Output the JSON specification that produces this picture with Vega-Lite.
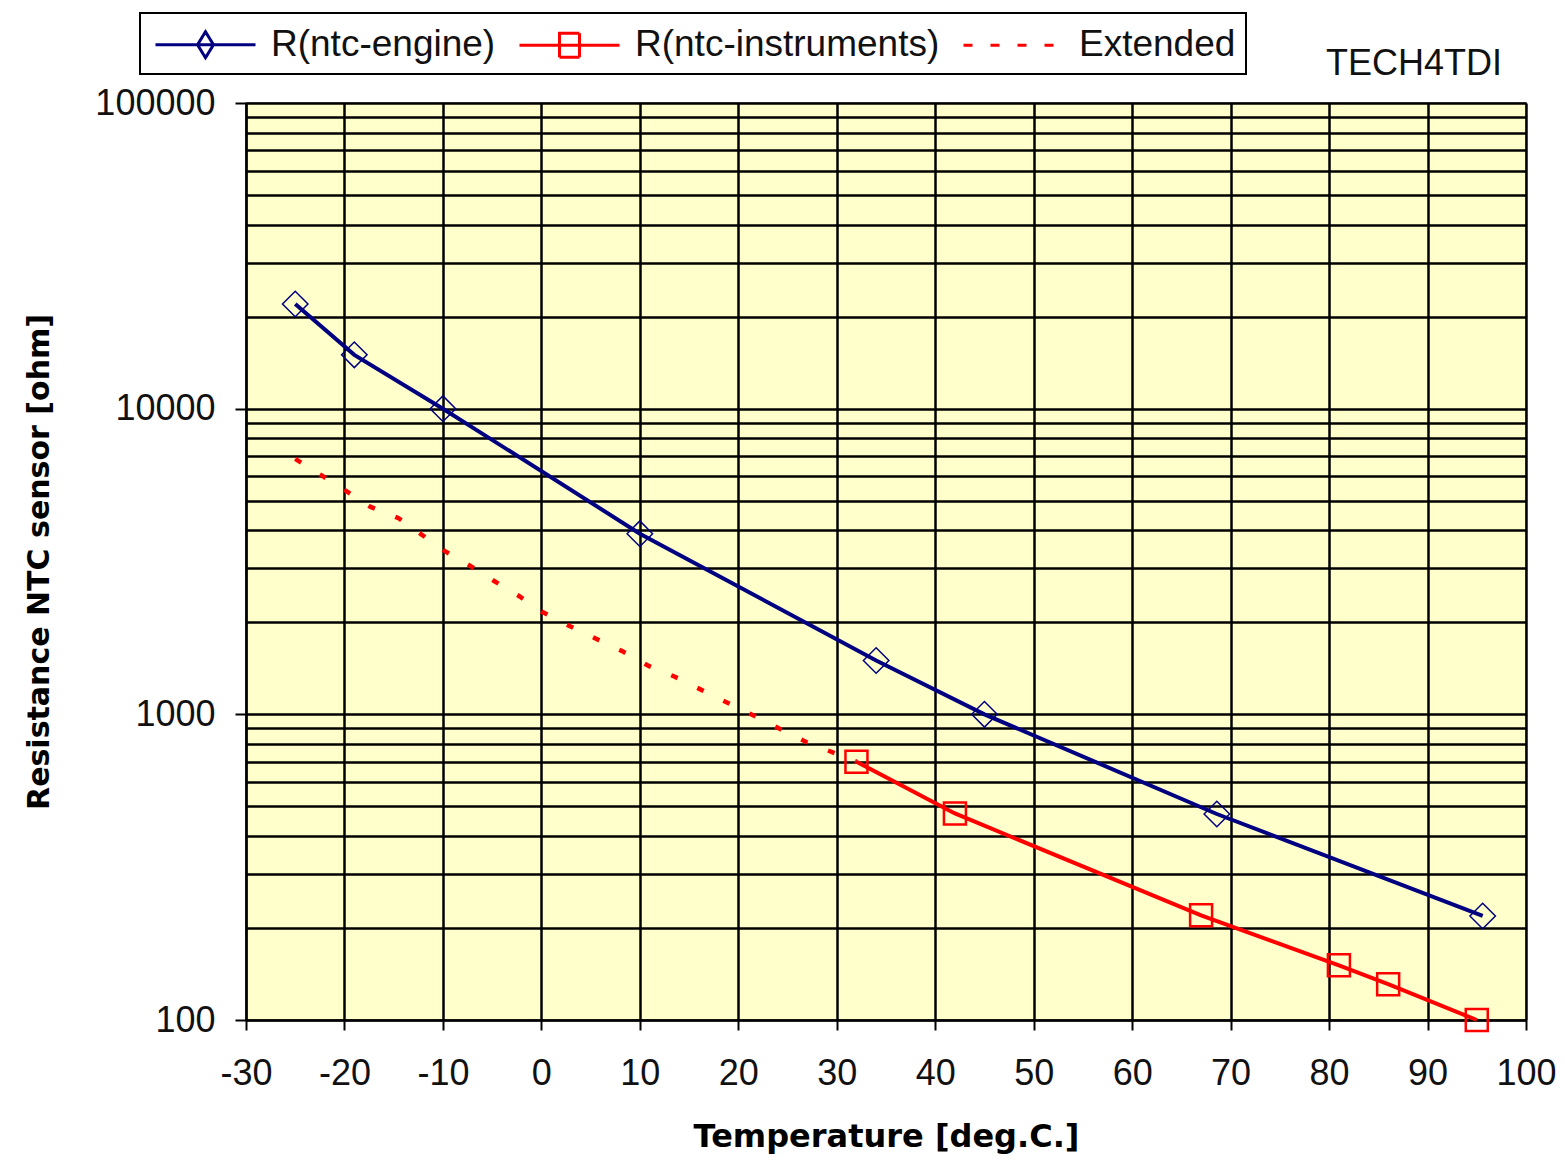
{
  "$schema": "https://vega.github.io/schema/vega-lite/v6.json",
  "width": 1280,
  "height": 917,
  "autosize": {"type": "none"},
  "padding": {"left": 246, "top": 103, "right": 39, "bottom": 141},
  "background": "white",
  "title": {"text": "TECH4TDI", "anchor": "end", "fontSize": 36, "font": "Liberation Sans", "fontWeight": "normal", "color": "#111111", "offset": -71, "dx": -54},
  "config": {
    "view": {"fill": "#FFFFCC", "stroke": "#999999", "strokeWidth": 2},
    "axis": {"labelFont": "Liberation Sans", "labelFontSize": 36, "labelColor": "#111111", "titleFont": "DejaVu Sans", "titleFontWeight": "bold", "titleColor": "#000000", "domainColor": "#000000", "domainWidth": 2, "tickColor": "#000000", "tickWidth": 2, "gridColor": "#000000", "gridWidth": 2.5, "gridOpacity": 1, "labelFlush": false, "labelOverlap": false}
  },
  "datasets": {
    "eng": [
      {"t": -25, "r": 22000, "series": "R(ntc-engine)"},
      {"t": -19, "r": 15000, "series": "R(ntc-engine)"},
      {"t": -10, "r": 10000, "series": "R(ntc-engine)"},
      {"t": 10, "r": 3900, "series": "R(ntc-engine)"},
      {"t": 34, "r": 1500, "series": "R(ntc-engine)"},
      {"t": 45, "r": 1000, "series": "R(ntc-engine)"},
      {"t": 68.6, "r": 472, "series": "R(ntc-engine)"},
      {"t": 95.6, "r": 219, "series": "R(ntc-engine)"}
    ],
    "ins": [
      {"t": 32, "r": 700, "series": "R(ntc-instruments)"},
      {"t": 42, "r": 474, "series": "R(ntc-instruments)"},
      {"t": 67, "r": 220, "series": "R(ntc-instruments)"},
      {"t": 81, "r": 151, "series": "R(ntc-instruments)"},
      {"t": 86, "r": 131, "series": "R(ntc-instruments)"},
      {"t": 95, "r": 100, "series": "R(ntc-instruments)"}
    ],
    "ext": [
      {"t": -25, "r": 6850, "series": "Extended"},
      {"t": -22.4, "r": 6070, "series": "Extended"},
      {"t": -20, "r": 5420, "series": "Extended"},
      {"t": -17.4, "r": 4780, "series": "Extended"},
      {"t": -14.5, "r": 4380, "series": "Extended"},
      {"t": -12.2, "r": 3880, "series": "Extended"},
      {"t": -9.8, "r": 3420, "series": "Extended"},
      {"t": -7.3, "r": 3070, "series": "Extended"},
      {"t": -4.8, "r": 2730, "series": "Extended"},
      {"t": -2.2, "r": 2430, "series": "Extended"},
      {"t": 0, "r": 2170, "series": "Extended"},
      {"t": 2.8, "r": 1950, "series": "Extended"},
      {"t": 5.5, "r": 1770, "series": "Extended"},
      {"t": 8.2, "r": 1610, "series": "Extended"},
      {"t": 10.9, "r": 1440, "series": "Extended"},
      {"t": 13.5, "r": 1330, "series": "Extended"},
      {"t": 16.3, "r": 1200, "series": "Extended"},
      {"t": 18.8, "r": 1095, "series": "Extended"},
      {"t": 21.5, "r": 993, "series": "Extended"},
      {"t": 24.2, "r": 897, "series": "Extended"},
      {"t": 26.9, "r": 812, "series": "Extended"},
      {"t": 32, "r": 700, "series": "Extended"}
    ]
  },
  "encoding": {
    "x": {"field": "t", "type": "quantitative", "scale": {"domain": [-30, 100], "nice": false, "zero": false},
      "axis": {"values": [-30, -20, -10, 0, 10, 20, 30, 40, 50, 60, 70, 80, 90, 100], "labelExpr": "'' + datum.value", "title": "Temperature [deg.C.]", "titleFontSize": 32, "titlePadding": 30, "tickSize": 10, "labelPadding": 26, "grid": true}},
    "y": {"field": "r", "type": "quantitative", "scale": {"type": "log", "domain": [100, 100000], "nice": false},
      "axis": {"values": [100, 200, 300, 400, 500, 600, 700, 800, 900, 1000, 2000, 3000, 4000, 5000, 6000, 7000, 8000, 9000, 10000, 20000, 30000, 40000, 50000, 60000, 70000, 80000, 90000, 100000],
        "labelExpr": "(datum.value == 100 || datum.value == 1000 || datum.value == 10000 || datum.value == 100000) ? '' + datum.value : ''",
        "tickOpacity": {"condition": {"test": "datum.value == 100 || datum.value == 1000 || datum.value == 10000 || datum.value == 100000", "value": 1}, "value": 0},
        "tickSize": 11, "labelPadding": 20, "title": "Resistance NTC sensor [ohm]", "titleFontSize": 30, "titlePadding": 40, "grid": true}}
  },
  "layer": [
    {"data": {"name": "ext"}, "mark": {"type": "line", "strokeWidth": 4.5, "strokeDash": [7, 22]},
      "encoding": {"color": {"field": "series", "type": "nominal",
        "scale": {"domain": ["R(ntc-engine)", "R(ntc-instruments)", "Extended"], "range": ["#000080", "#FF0000", "#FF0000"]},
        "legend": {"orient": "none", "legendX": -106, "legendY": -90, "direction": "horizontal", "title": null,
          "labelFont": "Liberation Sans", "labelFontSize": 37, "labelColor": "#111111", "labelOffset": 78, "labelLimit": 0,
          "symbolSize": 1600, "symbolStrokeWidth": 3, "columnPadding": 17, "padding": 10, "fillColor": "white", "strokeColor": "#000000",
          "encode": {
            "legend": {"update": {"strokeWidth": {"value": 2}}},
            "symbols": {"update": {
              "shape": {"signal": "datum.value === 'R(ntc-engine)' ? 'M-0.8,0H4.2M1.7,-0.65L2.1,0L1.7,0.65L1.3,0Z' : (datum.value === 'R(ntc-instruments)' ? 'M-0.8,0H4.2M1.2,-0.6H2.2V0.6H1.2Z' : 'M-0.8,0H4.2')"},
              "strokeDash": {"signal": "datum.value === 'Extended' ? [9, 18] : [1, 0]"},
              "fill": {"value": "transparent"},
              "strokeWidth": {"value": 3}
            }}
          }}}}},
    {"data": {"name": "eng"}, "mark": {"type": "line", "strokeWidth": 4}, "encoding": {"color": {"field": "series", "type": "nominal"}}},
    {"data": {"name": "ins"}, "mark": {"type": "line", "strokeWidth": 4}, "encoding": {"color": {"field": "series", "type": "nominal"}}},
    {"data": {"name": "eng"}, "mark": {"type": "point", "shape": "diamond", "filled": false, "size": 650, "color": "#000080", "strokeWidth": 1.5, "opacity": 1}},
    {"data": {"name": "ins"}, "mark": {"type": "point", "shape": "square", "filled": false, "size": 484, "color": "#FF0000", "strokeWidth": 2.5, "opacity": 1}}
  ]
}
